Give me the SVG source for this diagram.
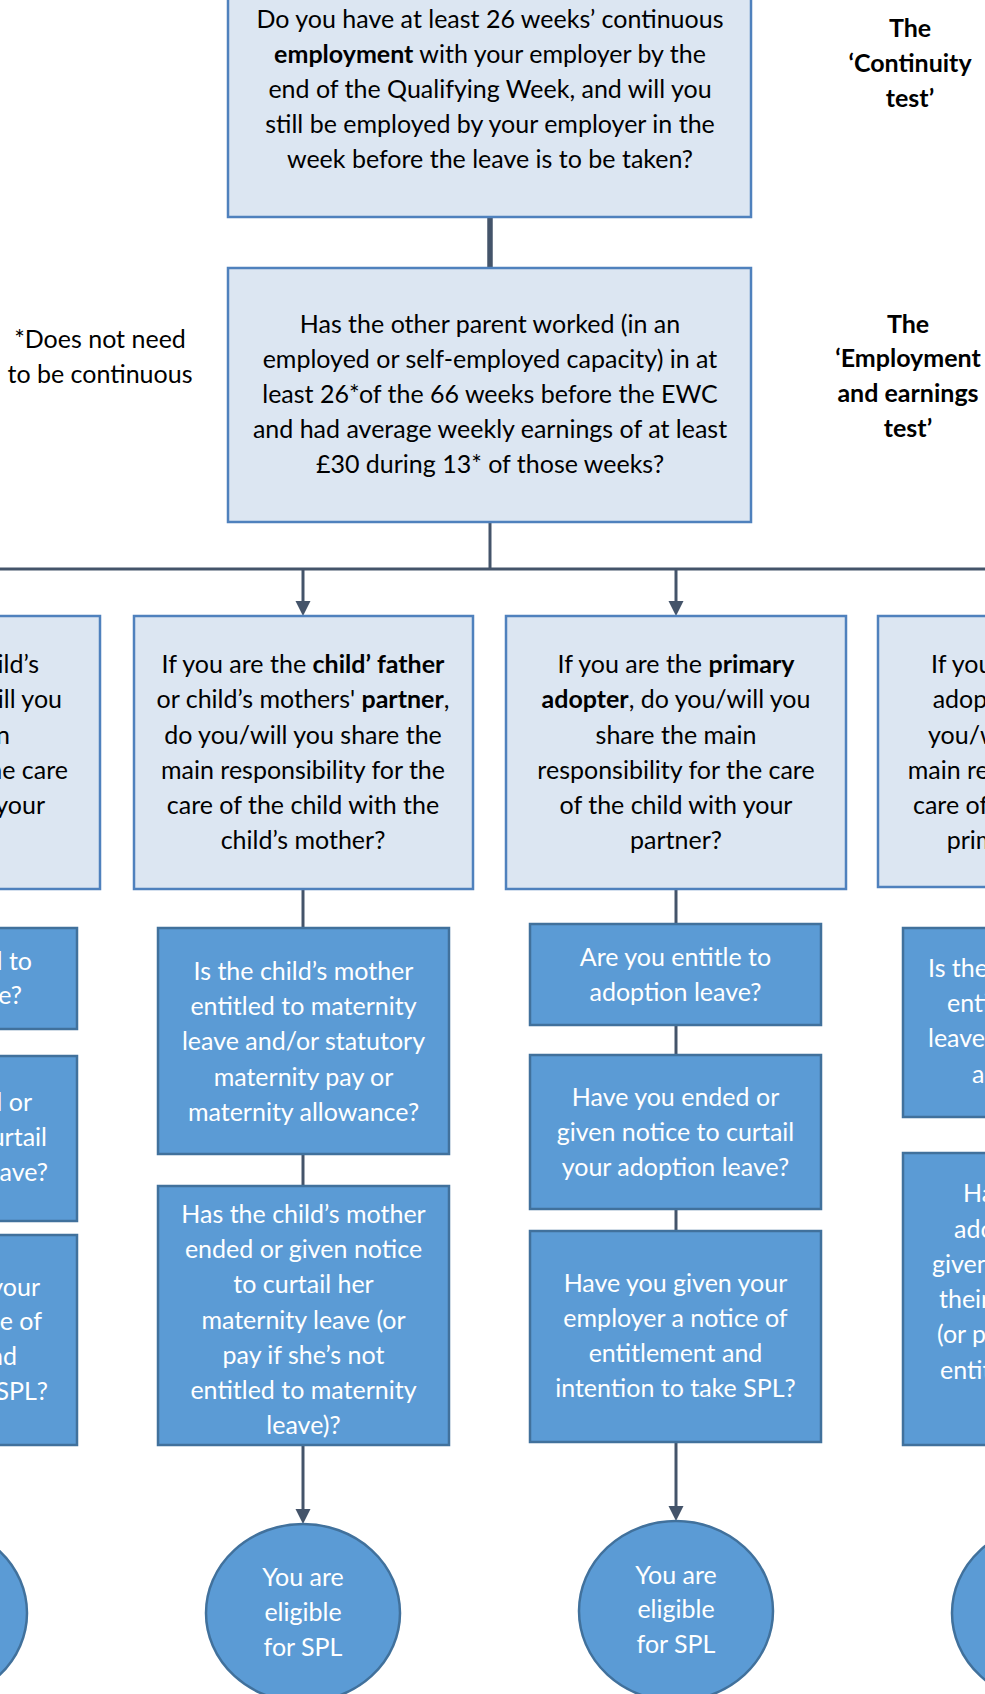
<svg xmlns="http://www.w3.org/2000/svg" width="985" height="1694" viewBox="0 0 985 1694">
<defs>
<style>
.t{font-family:Lato,"Liberation Sans",sans-serif;font-size:25px;fill:#000;text-anchor:middle}
.w{fill:#fff}
.b{font-weight:bold}
.s{text-anchor:start}
.e{text-anchor:end}
.light{fill:#dce6f2;stroke:#4f81bd;stroke-width:2.5}
.dark{fill:#5b9bd5;stroke:#41719c;stroke-width:2.5}
.conn{stroke:#44546a;stroke-width:3;fill:none}
.arr{marker-end:url(#ah)}
</style>
<marker id="ah" markerUnits="userSpaceOnUse" markerWidth="16" markerHeight="16" refX="5" refY="7.5" orient="auto">
<path d="M0,0 L15,7.5 L0,15 Z" fill="#44546a"/>
</marker>
</defs>

<g id="connectors">
<line class="conn" x1="490" y1="217" x2="490" y2="268" style="stroke-width:5.5"/>
<line class="conn" x1="490" y1="522" x2="490" y2="569"/>
<line class="conn" x1="-70" y1="569" x2="1049" y2="569"/>
<line class="conn arr" x1="303" y1="569" x2="303" y2="606"/>
<line class="conn arr" x1="676" y1="569" x2="676" y2="606"/>
<line class="conn" x1="303" y1="889" x2="303" y2="928"/>
<line class="conn" x1="303" y1="1154" x2="303" y2="1186"/>
<line class="conn arr" x1="303" y1="1445" x2="303" y2="1514"/>
<line class="conn" x1="676" y1="889" x2="676" y2="924"/>
<line class="conn" x1="676" y1="1025" x2="676" y2="1055"/>
<line class="conn" x1="676" y1="1209" x2="676" y2="1231"/>
<line class="conn arr" x1="676" y1="1442" x2="676" y2="1511"/>
</g>

<g id="continuity">
<rect class="light" x="228" y="-20" width="523" height="237"/>
<text class="t" x="490" y="28">Do you have at least 26 weeks’ continuous</text>
<text class="t" x="490" y="63"><tspan class="b">employment</tspan> with your employer by the</text>
<text class="t" x="490" y="98">end of the Qualifying Week, and will you</text>
<text class="t" x="490" y="133">still be employed by your employer in the</text>
<text class="t" x="490" y="168">week before the leave is to be taken?</text>
</g>

<g id="label-continuity">
<text class="t b" x="910" y="37">The</text>
<text class="t b" x="910" y="72">‘Continuity</text>
<text class="t b" x="910" y="107">test’</text>
</g>

<g id="employment">
<rect class="light" x="228" y="268" width="523" height="254"/>
<text class="t" x="490" y="333">Has the other parent worked (in an</text>
<text class="t" x="490" y="368">employed or self-employed capacity) in at</text>
<text class="t" x="490" y="403">least 26*of the 66 weeks before the EWC</text>
<text class="t" x="490" y="438">and had average weekly earnings of at least</text>
<text class="t" x="490" y="473">£30 during 13* of those weeks?</text>
</g>

<g id="note">
<text class="t" x="100" y="348">*Does not need</text>
<text class="t" x="100" y="383">to be continuous</text>
</g>

<g id="label-employment">
<text class="t b" x="908" y="333">The</text>
<text class="t b" x="908" y="367">‘Employment</text>
<text class="t b" x="908" y="402">and earnings</text>
<text class="t b" x="908" y="437">test’</text>
</g>

<g id="q-mother">
<rect class="light" x="-240" y="616" width="340" height="273"/>
<text class="t e" x="39" y="673">If you are the child’s</text>
<text class="t e" x="62" y="708"><tspan class="b">mother</tspan>, do you/will you</text>
<text class="t e" x="10" y="743.5">share the main</text>
<text class="t e" x="68" y="779">responsibility for the care</text>
<text class="t e" x="45" y="814">of the child with your</text>
<text class="t" x="-70" y="849">partner?</text>
</g>

<g id="q-father">
<rect class="light" x="134" y="616" width="339" height="273"/>
<text class="t" x="303" y="673">If you are the <tspan class="b">child’ father</tspan></text>
<text class="t" x="303" y="708">or child’s mothers' <tspan class="b">partner</tspan>,</text>
<text class="t" x="303" y="743.5">do you/will you share the</text>
<text class="t" x="303" y="779">main responsibility for the</text>
<text class="t" x="303" y="814">care of the child with the</text>
<text class="t" x="303" y="849">child’s mother?</text>
</g>

<g id="q-primary">
<rect class="light" x="506" y="616" width="340" height="273"/>
<text class="t" x="676" y="673">If you are the <tspan class="b">primary</tspan></text>
<text class="t" x="676" y="708"><tspan class="b">adopter</tspan>, do you/will you</text>
<text class="t" x="676" y="743.5">share the main</text>
<text class="t" x="676" y="779">responsibility for the care</text>
<text class="t" x="676" y="814">of the child with your</text>
<text class="t" x="676" y="849">partner?</text>
</g>

<g id="q-partner">
<rect class="light" x="878" y="616" width="340" height="271"/>
<text class="t s" x="931" y="673">If you are the primary</text>
<text class="t s" x="932.7" y="708">adopter’s <tspan class="b">partner</tspan>, do</text>
<text class="t s" x="928" y="743.5">you/will you share the</text>
<text class="t s" x="907.7" y="779">main responsibility for the</text>
<text class="t s" x="913" y="814">care of the child with the</text>
<text class="t s" x="946.7" y="849">primary adopter?</text>
</g>

<g id="l1">
<rect class="dark" x="-214" y="928" width="291" height="101"/>
<text class="t w e" x="32" y="970">Are you entitled to</text>
<text class="t w e" x="22" y="1004">maternity leave?</text>
</g>
<g id="l2">
<rect class="dark" x="-214" y="1056" width="291" height="165"/>
<text class="t w e" x="32" y="1111">Have you ended or</text>
<text class="t w e" x="47" y="1146">given notice to curtail</text>
<text class="t w e" x="48" y="1181">your maternity leave?</text>
</g>
<g id="l3">
<rect class="dark" x="-214" y="1235" width="291" height="210"/>
<text class="t w e" x="40" y="1296">Have you given your</text>
<text class="t w e" x="42" y="1330">employer a notice of</text>
<text class="t w e" x="17" y="1365">entitlement and</text>
<text class="t w e" x="48" y="1400">intention to take SPL?</text>
</g>

<g id="a">
<rect class="dark" x="158" y="928" width="291" height="226"/>
<text class="t w" x="303.5" y="980">Is the child’s mother</text>
<text class="t w" x="303.5" y="1015">entitled to maternity</text>
<text class="t w" x="303.5" y="1050">leave and/or statutory</text>
<text class="t w" x="303.5" y="1086">maternity pay or</text>
<text class="t w" x="303.5" y="1121">maternity allowance?</text>
</g>
<g id="b">
<rect class="dark" x="158" y="1186" width="291" height="259"/>
<text class="t w" x="303.5" y="1223">Has the child’s mother</text>
<text class="t w" x="303.5" y="1258">ended or given notice</text>
<text class="t w" x="303.5" y="1293">to curtail her</text>
<text class="t w" x="303.5" y="1329">maternity leave (or</text>
<text class="t w" x="303.5" y="1364">pay if she’s not</text>
<text class="t w" x="303.5" y="1399">entitled to maternity</text>
<text class="t w" x="303.5" y="1434">leave)?</text>
</g>

<g id="c">
<rect class="dark" x="530" y="924" width="291" height="101"/>
<text class="t w" x="675.5" y="966">Are you entitle to</text>
<text class="t w" x="675.5" y="1001">adoption leave?</text>
</g>
<g id="d">
<rect class="dark" x="530" y="1055" width="291" height="154"/>
<text class="t w" x="675.5" y="1106">Have you ended or</text>
<text class="t w" x="675.5" y="1141">given notice to curtail</text>
<text class="t w" x="675.5" y="1176">your adoption leave?</text>
</g>
<g id="e">
<rect class="dark" x="530" y="1231" width="291" height="211"/>
<text class="t w" x="675.5" y="1292">Have you given your</text>
<text class="t w" x="675.5" y="1327">employer a notice of</text>
<text class="t w" x="675.5" y="1362">entitlement and</text>
<text class="t w" x="675.5" y="1397">intention to take SPL?</text>
</g>

<g id="r1">
<rect class="dark" x="903" y="928" width="291" height="189"/>
<text class="t w s" x="928" y="977">Is the primary adopter</text>
<text class="t w s" x="947" y="1012">entitled to adoption</text>
<text class="t w s" x="928" y="1047">leave and/or statutory</text>
<text class="t w s" x="972" y="1083">adoption pay?</text>
</g>
<g id="r2">
<rect class="dark" x="903" y="1153" width="291" height="292"/>
<text class="t w s" x="963" y="1202">Has the primary</text>
<text class="t w s" x="954" y="1238">adopter ended or</text>
<text class="t w s" x="932" y="1273">given notice to curtail</text>
<text class="t w s" x="939" y="1308">their adoption leave</text>
<text class="t w s" x="937" y="1343">(or pay if they’re not</text>
<text class="t w s" x="940" y="1379">entitled to adoption</text>
<text class="t w" x="1048" y="1414">leave)?</text>
</g>

<g id="end-left">
<ellipse class="dark" cx="-70" cy="1613" rx="97" ry="89"/>
</g>
<g id="end-father">
<ellipse class="dark" cx="303" cy="1613" rx="97" ry="89"/>
<text class="t w" x="303" y="1586">You are</text>
<text class="t w" x="303" y="1621">eligible</text>
<text class="t w" x="303" y="1656">for SPL</text>
</g>
<g id="end-primary">
<ellipse class="dark" cx="676" cy="1611" rx="97" ry="90"/>
<text class="t w" x="676" y="1584">You are</text>
<text class="t w" x="676" y="1618">eligible</text>
<text class="t w" x="676" y="1653">for SPL</text>
</g>
<g id="end-right">
<ellipse class="dark" cx="1049" cy="1613" rx="97" ry="89"/>
</g>
</svg>
